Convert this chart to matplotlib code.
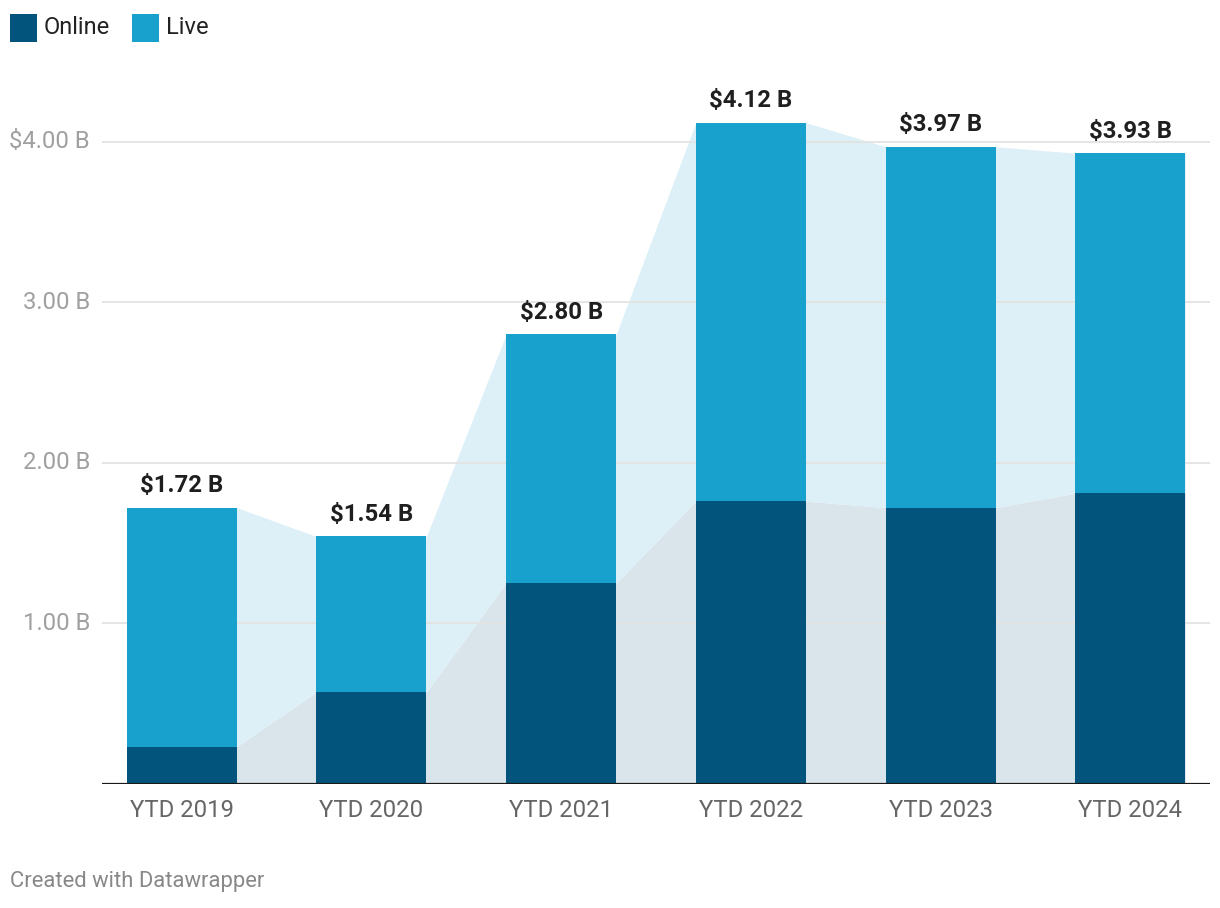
import matplotlib
matplotlib.use("Agg")
import matplotlib.pyplot as plt
import numpy as np
from matplotlib.patches import Rectangle

categories = ["YTD 2019", "YTD 2020", "YTD 2021", "YTD 2022", "YTD 2023", "YTD 2024"]
online = [0.23, 0.57, 1.25, 1.76, 1.72, 1.81]
totals = [1.72, 1.54, 2.80, 4.12, 3.97, 3.93]
live = [t - o for t, o in zip(totals, online)]
total_labels = ["$1.72 B", "$1.54 B", "$2.80 B", "$4.12 B", "$3.97 B", "$3.93 B"]
yticks = [1, 2, 3, 4]
ytick_labels = ["1.00 B", "2.00 B", "3.00 B", "$4.00 B"]

C_ONLINE = "#03547c"
C_LIVE = "#18a1cd"
C_AREA_LIVE = "#ddf0f7"
C_AREA_ONLINE = "#d9e4eb"

plt.rcParams["font.family"] = ["Roboto", "DejaVu Sans"]

W, H = 1220, 908
fig = plt.figure(figsize=(W / 100, H / 100), dpi=100)
y0_px, per_unit = 783.5, 160.4
ymax = 4.5
top_px = y0_px - ymax * per_unit
ax = fig.add_axes([102 / W, (H - y0_px) / H, (1210 - 102) / W, (y0_px - top_px) / H])

x = np.arange(len(categories))
bw = 0.58
ax.set_xlim(-0.42, 5.42)
ax.set_ylim(0, ymax)

# connecting areas
ax_x = []
ax_on = []
ax_tot = []
for i in range(len(categories)):
    ax_x += [x[i] - bw / 2, x[i] + bw / 2]
    ax_on += [online[i], online[i]]
    ax_tot += [totals[i], totals[i]]
ax.fill_between(ax_x, 0, ax_on, color=C_AREA_ONLINE, lw=0, zorder=1)
ax.fill_between(ax_x, ax_on, ax_tot, color=C_AREA_LIVE, lw=0, zorder=1)

for t in yticks:
    ax.axhline(t, color="#e3e3e3", lw=1.3, zorder=2)

ax.bar(x, online, width=bw, color=C_ONLINE, zorder=3, lw=0)
ax.bar(x, live, bottom=online, width=bw, color=C_LIVE, zorder=3, lw=0)

for i, lab in enumerate(total_labels):
    ax.annotate(lab, (x[i], totals[i]), xytext=(0, 11), textcoords="offset points",
                ha="center", va="baseline", fontsize=17.2, fontweight="bold", color="#1f1f1f", zorder=4)

ax.axhline(0, color="#1a1a1a", lw=1.6, zorder=5)

for s in ax.spines.values():
    s.set_visible(False)
ax.set_yticks([])
ax.set_xticks(x)
ax.set_xticklabels(categories, fontsize=17.2, color="#666666")
ax.tick_params(axis="x", length=0, pad=11)

for t, lab in zip(yticks, ytick_labels):
    fig.text(90 / W, (H - (y0_px - t * per_unit)) / H, lab, ha="right", va="center",
             fontsize=17.2, color="#a0a0a0")

# legend
fig.patches.append(Rectangle((10 / W, (H - 42) / H), 27 / W, 28 / H, transform=fig.transFigure,
                             color=C_ONLINE, lw=0))
fig.text(44 / W, (H - 27) / H, "Online", ha="left", va="center", fontsize=17, color="#222222")
fig.patches.append(Rectangle((132 / W, (H - 42) / H), 27 / W, 28 / H, transform=fig.transFigure,
                             color=C_LIVE, lw=0))
fig.text(166 / W, (H - 27) / H, "Live", ha="left", va="center", fontsize=17, color="#222222")

fig.text(10 / W, (H - 882) / H, "Created with Datawrapper", ha="left", va="center",
         fontsize=15.8, color="#888888")

fig.savefig("out.png", dpi=100)
